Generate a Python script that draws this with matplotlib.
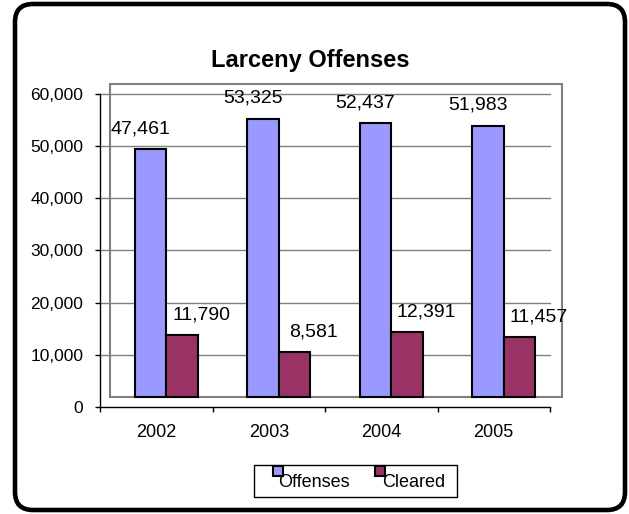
import matplotlib
matplotlib.use("Agg")
import matplotlib.pyplot as plt
from matplotlib.patches import Rectangle, FancyBboxPatch

plt.rcParams['font.family'] = ['Liberation Sans', 'DejaVu Sans']

years = ['2002', '2003', '2004', '2005']
offenses = [47461, 53325, 52437, 51983]
cleared = [11790, 8581, 12391, 11457]
series_names = ['Offenses', 'Cleared']
colors = ['#9999FF', '#993366']
yticks = [0, 10000, 20000, 30000, 40000, 50000, 60000]

W, H = 629, 514
fig = plt.figure(figsize=(W / 100, H / 100), dpi=100)


def fx(x):
    return x / W


def fy(y):
    return 1 - y / H


# plot area: x 100..550 px, y 94..407 px
ax = fig.add_axes([fx(100), fy(407), fx(450), 313 / H])
ax.set_xlim(0, 4)
ax.set_ylim(0, 60000)

# fake 3D depth offset (10 px right, 10 px up)
dx = 10 / 112.5
dy = 10 * 60000 / 313
lab_dy = 26 * 60000 / 313

# back wall
ax.add_patch(Rectangle((dx, dy), 4 + 0.02, 60000, fill=False, ec='#808080',
                       lw=1.5, clip_on=False, zorder=1))
for t in yticks[1:]:
    ax.plot([0, 4], [t, t], color='#808080', lw=1, zorder=1.5, clip_on=False)

w = 0.28
for i in range(len(years)):
    c = i + 0.5
    ax.bar(c - w / 2 + dx, offenses[i], w, bottom=dy, color=colors[0],
           edgecolor='black', lw=1.5, zorder=3)
    ax.bar(c + w / 2 + dx, cleared[i], w, bottom=dy, color=colors[1],
           edgecolor='black', lw=1.5, zorder=3)
    ax.text(c - 16 / 112.5, offenses[i] + lab_dy, f'{offenses[i]:,}',
            ha='center', va='baseline', fontsize=14, zorder=4)
    ax.text(c + 45 / 112.5, cleared[i] + lab_dy, f'{cleared[i]:,}',
            ha='center', va='baseline', fontsize=14, zorder=4)

for s in ['top', 'right']:
    ax.spines[s].set_visible(False)
ax.spines['left'].set_linewidth(1)
ax.spines['bottom'].set_linewidth(1)
ax.patch.set_alpha(0)

ax.set_yticks(yticks)
ax.set_yticklabels([f'{t:,}' for t in yticks])
ax.tick_params(axis='y', length=3.6, width=1, pad=8.5, labelsize=12.5)
ax.set_xticks([0, 1, 2, 3, 4])
ax.set_xticklabels([])
ax.tick_params(axis='x', which='major', length=3.6, width=1, direction='out')
ax.set_xticks([0.5, 1.5, 2.5, 3.5], minor=True)
ax.set_xticklabels(years, minor=True)
ax.tick_params(axis='x', which='minor', length=0, pad=12, labelsize=13)

fig.text(fx(310), fy(67), 'Larceny Offenses', ha='center', va='baseline',
         fontsize=17, fontweight='bold')

# legend box
fig.patches.append(Rectangle((fx(254), fy(497)), fx(203), 32 / H, fill=False,
                             ec='black', lw=1, transform=fig.transFigure))
for name, col, mx, tx in zip(series_names, colors, [273, 375], [278, 382]):
    fig.patches.append(Rectangle((fx(mx), fy(476)), fx(10), 10 / H,
                                 facecolor=col, ec='black', lw=1.5,
                                 transform=fig.transFigure, zorder=2))
    fig.text(fx(tx), fy(487), name, ha='left', va='baseline', fontsize=13,
             zorder=3)

# outer rounded frame
frame = FancyBboxPatch((15, 4), 610, 506,
                       boxstyle='round,pad=0,rounding_size=18',
                       fill=False, ec='black', lw=3.3, transform=None)
fig.patches.append(frame)

fig.savefig('out.png', dpi=100)
